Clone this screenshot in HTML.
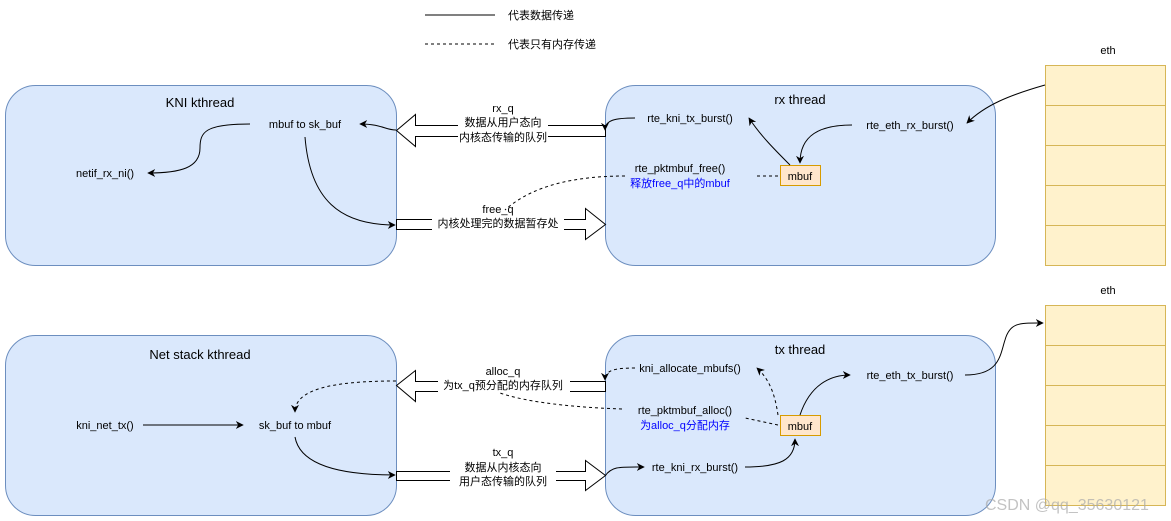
<!DOCTYPE html>
<html><head><meta charset="utf-8"><style>
html,body{margin:0;padding:0;background:#fff;}
svg{display:block;font-family:"Liberation Sans","Noto Sans CJK SC",sans-serif;}
</style></head><body>
<svg width="1171" height="521" viewBox="0 0 1171 521" xmlns="http://www.w3.org/2000/svg">
<defs>
<marker id="a" viewBox="0 0 10 10" refX="9" refY="5" markerWidth="8" markerHeight="8" orient="auto" markerUnits="userSpaceOnUse"><path d="M0,0 L10,5 L0,10 L3,5 Z" fill="#000"/></marker>
</defs>
<rect width="1171" height="521" fill="#fff"/>
<!-- legend -->
<line x1="425" y1="15" x2="495" y2="15" stroke="#000" stroke-width="1"/>
<line x1="425" y1="44" x2="495" y2="44" stroke="#000" stroke-width="1" stroke-dasharray="3,3"/>
<g font-size="11" fill="#000">
<text x="508" y="19">代表数据传递</text>
<text x="508" y="48">代表只有内存传递</text>
</g>
<!-- boxes -->
<g fill="#dae8fc" stroke="#6c8ebf" stroke-width="1">
<rect x="5.5" y="85.5" width="391" height="180" rx="30"/>
<rect x="605.5" y="85.5" width="390" height="180" rx="30"/>
<rect x="5.5" y="335.5" width="391" height="180" rx="30"/>
<rect x="605.5" y="335.5" width="390" height="180" rx="30"/>
</g>
<!-- eth -->
<g fill="#fff2cc" stroke="#d6b656" stroke-width="1">
<rect x="1045.5" y="65.5" width="120" height="40"/><rect x="1045.5" y="105.5" width="120" height="40"/><rect x="1045.5" y="145.5" width="120" height="40"/><rect x="1045.5" y="185.5" width="120" height="40"/><rect x="1045.5" y="225.5" width="120" height="40"/>
<rect x="1045.5" y="305.5" width="120" height="40"/><rect x="1045.5" y="345.5" width="120" height="40"/><rect x="1045.5" y="385.5" width="120" height="40"/><rect x="1045.5" y="425.5" width="120" height="40"/><rect x="1045.5" y="465.5" width="120" height="40"/>
</g>
<!-- mbuf boxes -->
<g fill="#ffe6cc" stroke="#d79b00" stroke-width="1">
<rect x="780.5" y="165.5" width="40" height="20"/>
<rect x="780.5" y="415.5" width="40" height="20"/>
</g>
<!-- block arrows -->
<g fill="#fff" stroke="#000" stroke-width="1">
<path d="M605.5,125.5 L415.5,125.5 L415.5,114.5 L396.5,130.5 L415.5,146.5 L415.5,136.5 L605.5,136.5 Z"/>
<path d="M396.5,219.5 L585.5,219.5 L585.5,208.5 L605.5,224.5 L585.5,239.5 L585.5,229.5 L396.5,229.5 Z"/>
<path d="M605.5,381.5 L415.5,381.5 L415.5,370.5 L396.5,385.5 L415.5,401.5 L415.5,391.5 L605.5,391.5 Z"/>
<path d="M396.5,471.5 L585.5,471.5 L585.5,460.5 L605.5,475.5 L585.5,490.5 L585.5,480.5 L396.5,480.5 Z"/>
</g>
<!-- label backgrounds -->
<g fill="#fff">
<rect x="458" y="114" width="90" height="30"/>
<rect x="432" y="214" width="132" height="16"/>
<rect x="438" y="377" width="132" height="16"/>
<rect x="450" y="459" width="106" height="30"/>
</g>
<!-- connectors solid -->
<g fill="none" stroke="#000" stroke-width="1">
<path d="M635,118 C615,118 605,120 605,130" marker-end="url(#a)"/>
<path d="M396,130 C385,130 382,124 360,124" marker-end="url(#a)"/>
<path d="M250,124 C205,124 200,132 200,148 C200,168 180,173 148,173" marker-end="url(#a)"/>
<path d="M305,137 C310,200 340,225 395,225" marker-end="url(#a)"/>
<path d="M852,125 C820,125 800,135 800,163" marker-end="url(#a)"/>
<path d="M790,165 C775,150 760,135 749,118" marker-end="url(#a)"/>
<path d="M1045,85 C1010,95 985,105 967,123" marker-end="url(#a)"/>
<path d="M143,425 L243,425" marker-end="url(#a)"/>
<path d="M295,437 C300,465 340,475 395,475" marker-end="url(#a)"/>
<path d="M605,476 C612,466 620,467 644,467" marker-end="url(#a)"/>
<path d="M745,467 C780,467 795,460 795,439" marker-end="url(#a)"/>
<path d="M800,415 C810,385 830,375 850,375" marker-end="url(#a)"/>
<path d="M965,375 C1000,375 1000,355 1005,340 C1010,322 1020,323 1043,323" marker-end="url(#a)"/>
</g>
<!-- dashed -->
<g fill="none" stroke="#000" stroke-width="1" stroke-dasharray="3,3">
<path d="M778,176 L755,176"/>
<path d="M625,176 C560,176 525,192 505,210"/>
<path d="M396,381 C330,381 295,390 295,412" marker-end="url(#a)"/>
<path d="M635,368 C615,368 605,370 605,380" marker-end="url(#a)"/>
<path d="M778,415 C775,395 770,380 757,368" marker-end="url(#a)"/>
<path d="M778,425 L745,418"/>
<path d="M622,409 C560,407 520,400 500,393"/>
</g>
<!-- texts -->
<g font-size="11" fill="#000" text-anchor="middle">
<text x="200" y="107" font-size="13">KNI kthread</text>
<text x="305" y="128">mbuf to sk_buf</text>
<text x="105" y="177">netif_rx_ni()</text>
<text x="800" y="104" font-size="13">rx thread</text>
<text x="690" y="122">rte_kni_tx_burst()</text>
<text x="910" y="129">rte_eth_rx_burst()</text>
<text x="680" y="172">rte_pktmbuf_free()</text>
<text x="680" y="187" fill="#0000ff">释放free_q中的mbuf</text>
<text x="800" y="180">mbuf</text>
<text x="503" y="112">rx_q</text>
<text x="503" y="126">数据从用户态向</text>
<text x="503" y="141">内核态传输的队列</text>
<text x="498" y="213">free_q</text>
<text x="498" y="227">内核处理完的数据暂存处</text>
<text x="1108" y="54">eth</text>
<text x="1108" y="294">eth</text>
<text x="200" y="359" font-size="13">Net stack kthread</text>
<text x="105" y="429">kni_net_tx()</text>
<text x="295" y="429">sk_buf to mbuf</text>
<text x="800" y="354" font-size="13">tx thread</text>
<text x="690" y="372">kni_allocate_mbufs()</text>
<text x="910" y="379">rte_eth_tx_burst()</text>
<text x="685" y="414">rte_pktmbuf_alloc()</text>
<text x="685" y="429" fill="#0000ff">为alloc_q分配内存</text>
<text x="800" y="430">mbuf</text>
<text x="695" y="471">rte_kni_rx_burst()</text>
<text x="503" y="375">alloc_q</text>
<text x="503" y="389">为tx_q预分配的内存队列</text>
<text x="503" y="456">tx_q</text>
<text x="503" y="471">数据从内核态向</text>
<text x="503" y="485">用户态传输的队列</text>
</g>
<text x="985" y="510" font-size="16" fill="#aaa" opacity="0.7">CSDN @qq_35630121</text>
</svg>
</body></html>
